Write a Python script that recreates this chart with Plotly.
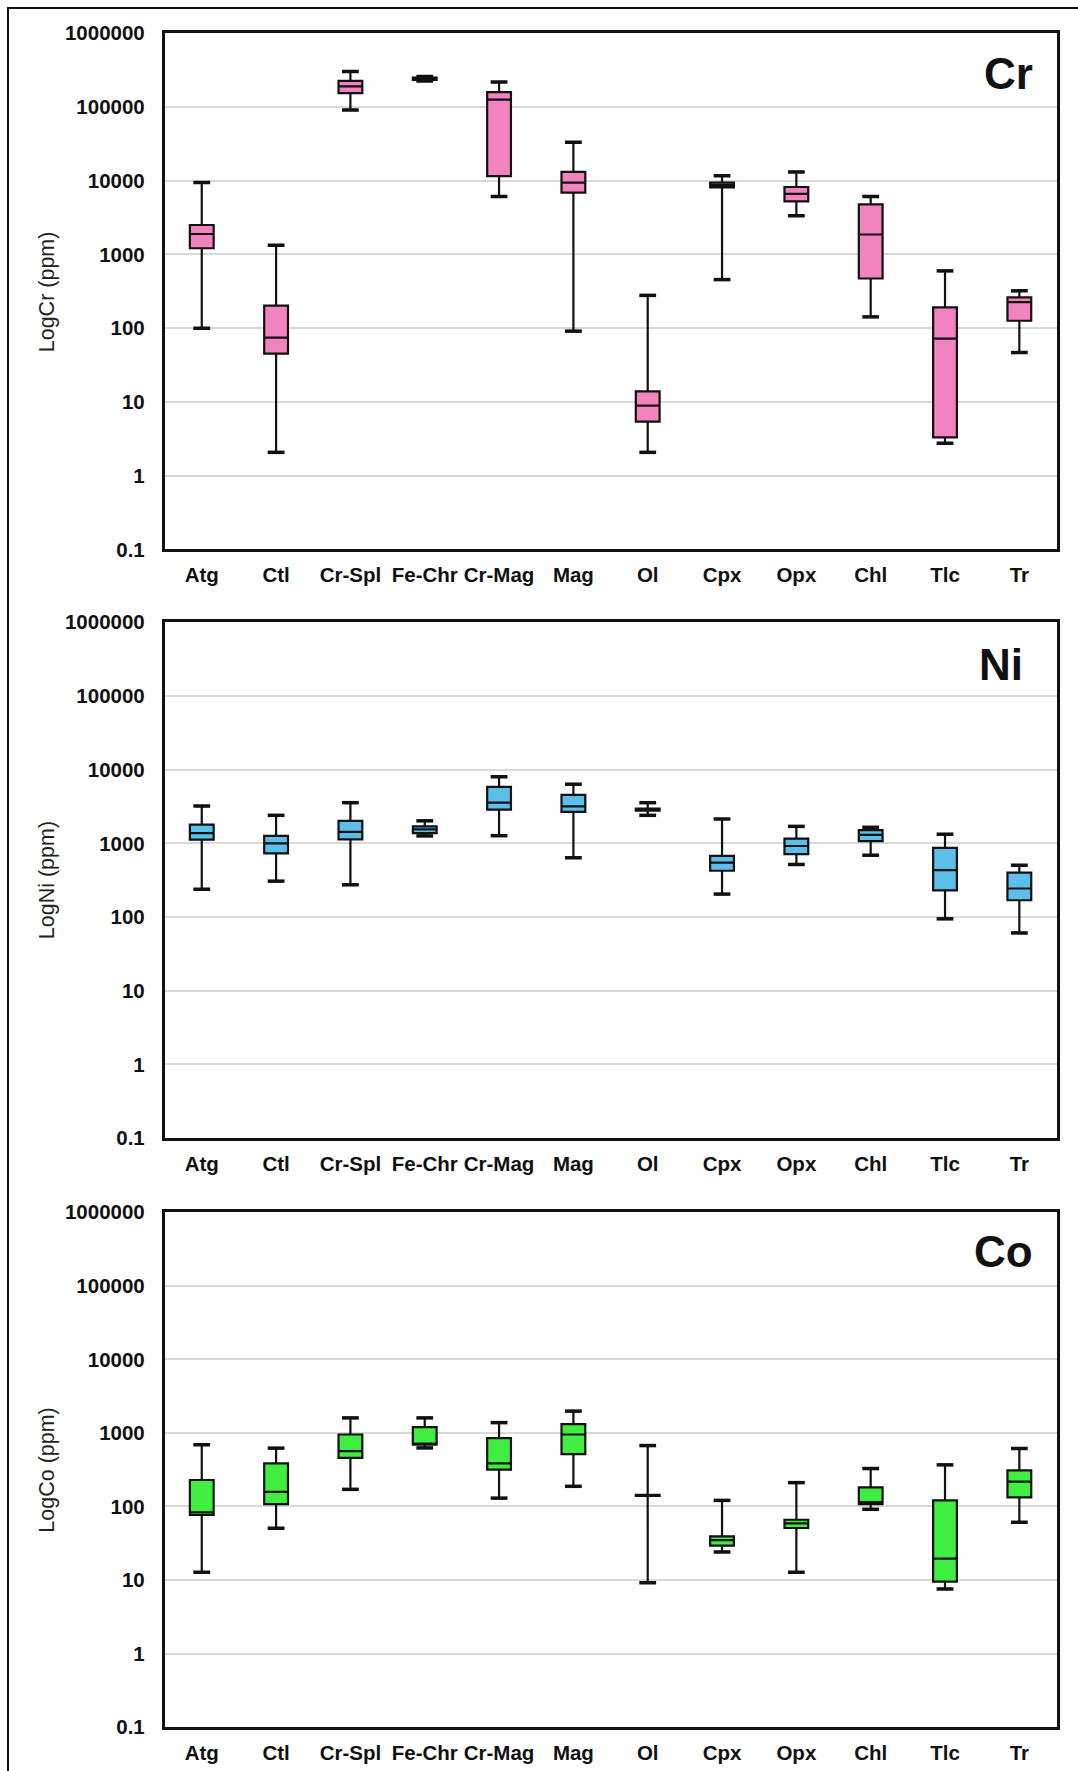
import plotly.graph_objects as go

# ---------------- data ----------------
categories = ["Atg", "Ctl", "Cr-Spl", "Fe-Chr", "Cr-Mag", "Mag", "Ol", "Cpx", "Opx", "Chl", "Tlc", "Tr"]

cr_lower  = [100, 2.07, 91000, 225000, 6100, 91, 2.07, 455, 3350, 142, 2.75, 46.6]
cr_q1     = [1210, 45, 154000, 232000, 11500, 6870, 5.4, 8100, 5240, 471, 3.3, 126]
cr_median = [1890, 74.5, 189000, 242000, 125000, 9400, 8.9, 8700, 6630, 1860, 72, 225]
cr_q3     = [2500, 202, 225000, 250000, 158000, 13100, 13.9, 9400, 8190, 4770, 191, 262]
cr_upper  = [9400, 1325, 302000, 258000, 217000, 33100, 278, 11600, 13100, 6100, 597, 320]

ni_lower  = [238, 307, 274, 1260, 1270, 637, 2400, 205, 517, 690, 94.6, 61]
ni_q1     = [1120, 731, 1135, 1380, 2860, 2670, 2780, 425, 714, 1070, 230, 169]
ni_median = [1380, 1000, 1430, 1550, 3560, 3170, 2860, 548, 921, 1300, 434, 244]
ni_q3     = [1800, 1260, 2020, 1700, 5850, 4540, 2950, 675, 1160, 1510, 869, 401]
ni_upper  = [3200, 2400, 3560, 2020, 8000, 6340, 3560, 2140, 1700, 1650, 1330, 505]

co_lower  = [12.8, 50.7, 171, 625, 130, 188, 9.2, 24.1, 12.8, 91.6, 7.57, 61]
co_q1     = [76.9, 108, 459, 690, 316, 515, 139, 29.4, 51, 108, 9.55, 133]
co_median = [83.5, 158, 565, 715, 385, 952, 141, 35, 59, 115, 19.6, 218]
co_q3     = [229, 385, 952, 1200, 849, 1320, 144, 39.3, 66, 182, 121, 309]
co_upper  = [689, 621, 1600, 1600, 1380, 1980, 673, 121, 211, 328, 368, 614]

tick_vals = [0.1, 1, 10, 100, 1000, 10000, 100000, 1000000]
tick_text = ["0.1", "1", "10", "100", "1000", "10000", "100000", "1000000"]

panels = [
    dict(name="Cr", title="LogCr (ppm)", color="#F283BE",
         lower=cr_lower, q1=cr_q1, median=cr_median, q3=cr_q3, upper=cr_upper),
    dict(name="Ni", title="LogNi (ppm)", color="#5BBFEA",
         lower=ni_lower, q1=ni_q1, median=ni_median, q3=ni_q3, upper=ni_upper),
    dict(name="Co", title="LogCo (ppm)", color="#40EE40",
         lower=co_lower, q1=co_q1, median=co_median, q3=co_q3, upper=co_upper),
]

# ---------------- layout geometry (pixels) ----------------
W, H = 1078, 1771
plot_left, plot_right = 164.6, 1056.5
panel_px = [(33.1, 549.4), (622.2, 1138.2), (1212.2, 1727.2)]
label_y_offset = [40, 42, 39]
label_right = [1035, 1025, 1035]

FONT = "Liberation Sans, Arial, sans-serif"

fig = go.Figure()
layout = dict(
    width=W, height=H,
    margin=dict(l=0, r=0, t=0, b=0, autoexpand=False),
    paper_bgcolor="white", plot_bgcolor="white",
    showlegend=False,
    annotations=[], shapes=[],
)

for i, p in enumerate(panels):
    k = "" if i == 0 else str(i + 1)
    xa, ya = "x" + k, "y" + k
    top, bot = panel_px[i]
    fig.add_trace(go.Box(
        x=categories, q1=p["q1"], median=p["median"], q3=p["q3"],
        lowerfence=p["lower"], upperfence=p["upper"],
        fillcolor=p["color"], line=dict(color="#111111", width=2.2),
        width=0.32, whiskerwidth=0.5, boxpoints=False, hoverinfo="skip",
        xaxis=xa, yaxis=ya,
    ))
    # thicker whisker caps
    fig.add_trace(go.Scatter(
        x=categories + categories, y=p["lower"] + p["upper"], mode="markers",
        marker=dict(symbol="line-ew", size=12, line=dict(color="#111111", width=3.5)),
        hoverinfo="skip", xaxis=xa, yaxis=ya,
    ))
    layout["xaxis" + k] = dict(
        domain=[plot_left / W, plot_right / W], anchor=ya, automargin=False,
        type="category", categoryorder="array", categoryarray=categories,
        range=[-0.5, len(categories) - 0.5],
        showline=True, mirror=True, linecolor="#111111", linewidth=2.5,
        showgrid=False, ticks="", ticklabelstandoff=5,
        tickfont=dict(family=FONT, size=20.5, color="#111111", weight="bold"),
        fixedrange=True,
    )
    layout["yaxis" + k] = dict(
        domain=[1 - bot / H, 1 - top / H], anchor=xa, automargin=False,
        type="log", range=[-1, 6],
        tickvals=tick_vals, ticktext=tick_text,
        showline=True, mirror=True, linecolor="#111111", linewidth=2.5,
        showgrid=True, gridcolor="#D9D9D9", gridwidth=2,
        ticks="", ticklabelstandoff=13, zeroline=False,
        tickfont=dict(family=FONT, size=20.5, color="#111111", weight="bold"),
        fixedrange=True,
    )
    layout["annotations"].append(dict(
        text=p["title"], xref="paper", yref="paper",
        x=47 / W, y=1 - (top + bot) / 2 / H, textangle=-90,
        showarrow=False, xanchor="center", yanchor="middle",
        font=dict(family=FONT, size=21.5, color="#222222"),
    ))
    layout["annotations"].append(dict(
        text="<b>" + p["name"] + "</b>", xref="paper", yref="paper",
        x=label_right[i] / W, y=1 - (top + label_y_offset[i]) / H,
        showarrow=False, xanchor="right", yanchor="middle",
        font=dict(family=FONT, size=44, color="#111111"),
    ))

# outer frame of the figure
layout["shapes"].append(dict(
    type="rect", xref="paper", yref="paper",
    x0=8 / W, x1=1.05, y0=-0.05, y1=1 - 8 / H,
    line=dict(color="#111111", width=2),
))

fig.update_layout(**layout)
fig.write_html(
    "out.html",
    config={"displayModeBar": False},
    post_script="document.body.style.margin='0';document.body.style.overflow='hidden';",
)
